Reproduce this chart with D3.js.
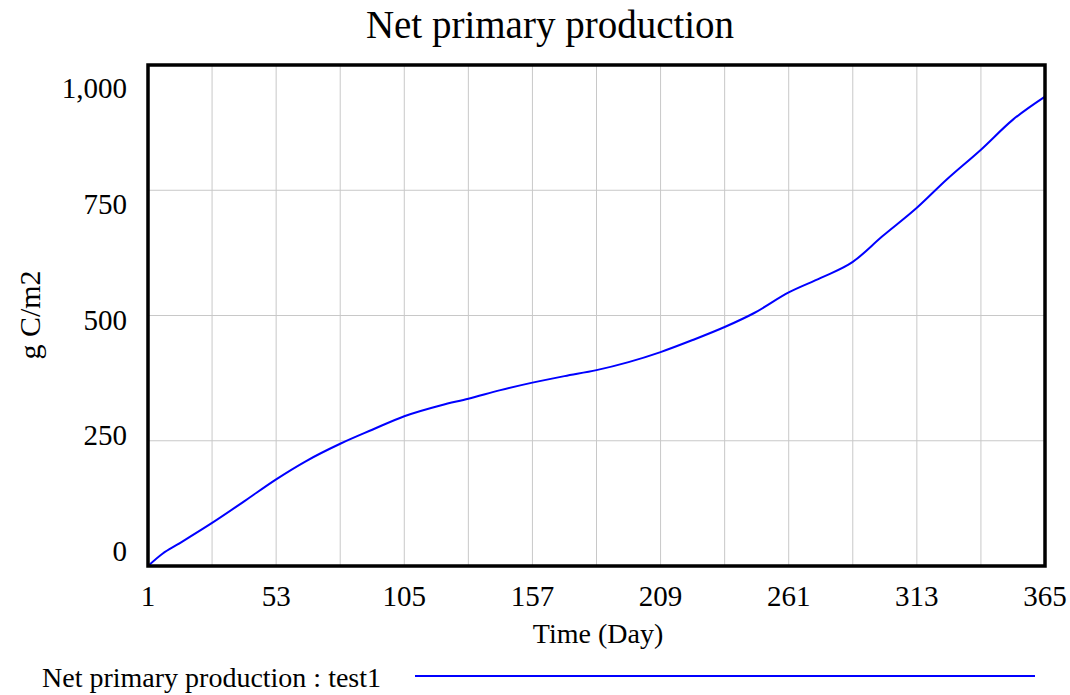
<!DOCTYPE html>
<html lang="en">
<head>
    <meta charset="UTF-8">
    <title>Net primary production</title>
    <script src="https://d3js.org/d3.v7.min.js"></script>
    <style>
        body { margin: 0; background: #fff; }
        text { font-family: "Liberation Serif", "Times New Roman", serif; fill: #000; }
        .grid line { stroke: #c8c8c8; stroke-width: 1; }
    </style>
</head>
<body>
    <script>
        // values (day, g C/m2)
        var days = [1, 7, 13, 27, 40, 53, 65, 79, 92, 105, 120, 131, 144, 157, 170, 183, 196, 209, 222, 235, 247, 261, 274, 287, 299, 313, 325, 339, 352, 365];
        var npp = [0, 25, 43, 86, 129, 173, 209, 244, 272, 299, 321, 334, 351, 366, 379, 391, 407, 427, 451, 477, 505, 546, 575, 607, 658, 715, 771, 831, 891, 937];
        var xTicks = [1, 53, 105, 157, 209, 261, 313, 365];
        var xGrid = [27, 53, 79, 105, 131, 157, 183, 209, 235, 261, 287, 313, 339];
        var yTicks = [0, 250, 500, 750, 1000];
        var yGrid = [250, 500, 750];

        var W = 1070, H = 695;
        var m = { left: 148, right: 1045, top: 65, bottom: 566 };

        var svg = d3.select("body").append("svg").attr("width", W).attr("height", H);

        var x = d3.scaleLinear().domain([1, 365]).range([m.left, m.right]);
        var y = d3.scaleLinear().domain([0, 1000]).range([m.bottom, m.top]);
        // labels are spread evenly a bit inside the frame
        var yLab = d3.scaleLinear().domain([0, 1000]).range([561, 98]);

        var grid = svg.append("g").attr("class", "grid");
        grid.selectAll("line.v").data(xGrid).enter().append("line")
            .attr("x1", function (d) { return x(d); }).attr("x2", function (d) { return x(d); })
            .attr("y1", m.top).attr("y2", m.bottom);
        grid.selectAll("line.h").data(yGrid).enter().append("line")
            .attr("x1", m.left).attr("x2", m.right)
            .attr("y1", function (d) { return y(d); }).attr("y2", function (d) { return y(d); });

        var line = d3.line()
            .curve(d3.curveMonotoneX)
            .x(function (d, i) { return x(days[i]); })
            .y(function (d) { return y(d); });

        svg.append("path").datum(npp)
            .attr("d", line)
            .attr("fill", "none")
            .attr("stroke", "#0000ff")
            .attr("stroke-width", 2);

        // frame
        svg.append("rect")
            .attr("x", m.left).attr("y", m.top)
            .attr("width", m.right - m.left).attr("height", m.bottom - m.top)
            .attr("fill", "none").attr("stroke", "#000").attr("stroke-width", 3.5);

        svg.append("g").selectAll("text").data(xTicks).enter().append("text")
            .attr("x", function (d) { return x(d); })
            .attr("y", 606)
            .attr("text-anchor", "middle")
            .attr("font-size", 29)
            .text(function (d) { return d; });

        svg.append("g").selectAll("text").data(yTicks).enter().append("text")
            .attr("x", 127)
            .attr("y", function (d) { return yLab(d); })
            .attr("text-anchor", "end")
            .attr("font-size", 29)
            .text(d3.format(","));

        svg.append("text")
            .attr("x", 550).attr("y", 38)
            .attr("text-anchor", "middle")
            .attr("font-size", 39)
            .text("Net primary production");

        svg.append("text")
            .attr("x", 598).attr("y", 643)
            .attr("text-anchor", "middle")
            .attr("font-size", 28)
            .text("Time (Day)");

        svg.append("text")
            .attr("transform", "translate(40,315) rotate(-90)")
            .attr("text-anchor", "middle")
            .attr("font-size", 30)
            .text("g C/m2");

        // legend
        svg.append("text")
            .attr("x", 42).attr("y", 687)
            .attr("font-size", 28)
            .text("Net primary production : test1");
        svg.append("line")
            .attr("x1", 415).attr("x2", 1035)
            .attr("y1", 676).attr("y2", 676)
            .attr("stroke", "#0000ff").attr("stroke-width", 2);
    </script>
</body>
</html>
